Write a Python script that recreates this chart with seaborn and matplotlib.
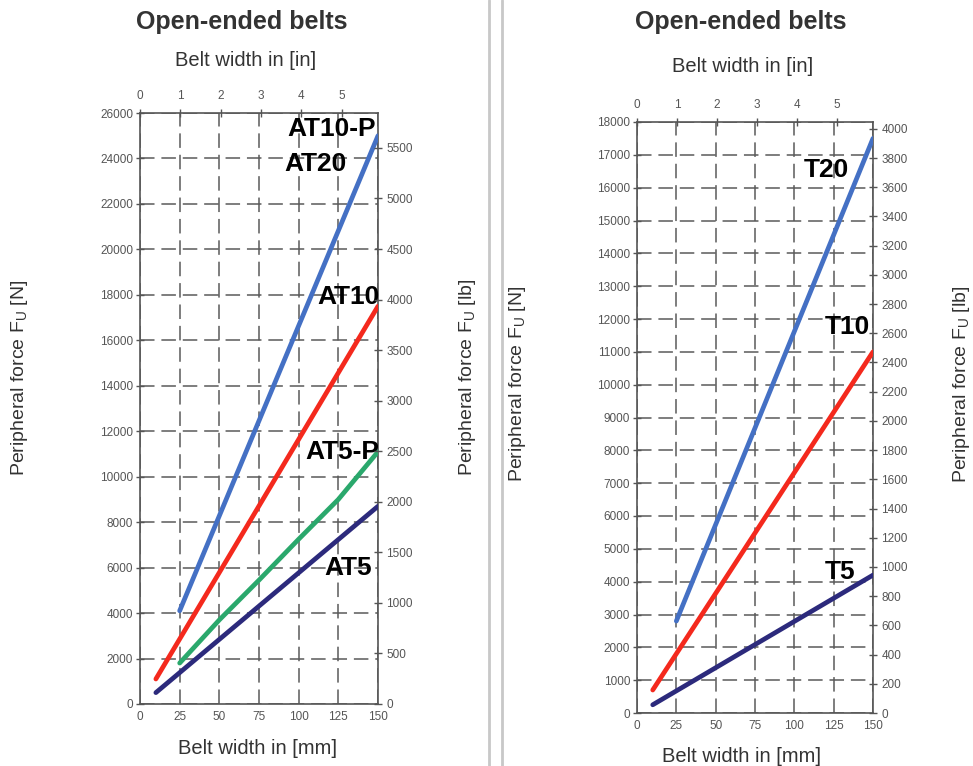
import numpy as np
import pandas as pd
import seaborn as sns
import matplotlib.pyplot as plt

# belt width in mm, peripheral force in N
at_p_w = [25, 150]
at_p_f = [4100, 25000]
at10_w = [10, 150]
at10_f = [1100, 17500]
at5p_w = [25, 50, 75, 100, 125, 150]
at5p_f = [1800, 3700, 5450, 7250, 9000, 11100]
at5_w = [10, 150]
at5_f = [500, 8700]

t20_w = [25, 150]
t20_f = [2800, 17500]
t10_w = [10, 150]
t10_f = [700, 11000]
t5_w = [10, 150]
t5_f = [250, 4200]

N_PER_LB = 4.448
MM_PER_IN = 25.4

blue = "#4470c4"
red = "#f4291d"
green = "#2aa86c"
navy = "#2c2a7c"
tick_col = "#555555"
text_col = "#333333"

sns.set_style("white")
plt.rcParams['font.family'] = ['Liberation Sans', 'DejaVu Sans']

fig = plt.figure(figsize=(9.73, 7.66), dpi=100)
W, H = 973, 766


def box(x0, y0, x1, y1):
    return [x0 / W, 1 - y1 / H, (x1 - x0) / W, (y1 - y0) / H]


def setup(ax, ymax, ystep, lbmax, lbstep):
    ax.set_xlim(0, 150)
    ax.set_ylim(0, ymax)
    ax.set_xticks(np.arange(0, 151, 25))
    ax.set_yticks(np.arange(0, ymax + 1, ystep))
    ax.tick_params(direction='inout', length=6, width=1, labelsize=8.5,
                   colors=tick_col, pad=2)
    ax.set_axisbelow(True)
    ax.grid(True, color="#5a5a5a", linestyle=(0, (9.5, 4.5)), linewidth=1.1)
    for s in ax.spines.values():
        s.set_color("#555555")
        s.set_linewidth(1.2)
        s.set_visible(True)
    ax.set_xlabel("")
    ax.set_ylabel("")
    # lb axis on the right
    ax2 = ax.twinx()
    ax2.set_ylim(0, ymax / N_PER_LB)
    ax2.set_yticks(np.arange(0, lbmax + 1, lbstep))
    ax2.tick_params(direction='inout', length=6, width=1, labelsize=8.5,
                    colors=tick_col, pad=3)
    ax2.grid(False)
    for s in ax2.spines.values():
        s.set_visible(False)
    # inch axis on top
    top = ax.secondary_xaxis('top', functions=(lambda v: v / MM_PER_IN,
                                               lambda v: v * MM_PER_IN))
    top.set_xticks(np.arange(0, 6, 1))
    top.tick_params(direction='inout', length=6, width=1, labelsize=8.5,
                    colors=tick_col, pad=5)
    for s in top.spines.values():
        s.set_visible(False)
    return ax2


# left chart
axL = fig.add_axes(box(140, 113, 378, 704))
sns.lineplot(x=at_p_w, y=at_p_f, ax=axL, color=blue, lw=3.4, zorder=3)
sns.lineplot(x=at10_w, y=at10_f, ax=axL, color=red, lw=3.4, zorder=3)
sns.lineplot(x=at5p_w, y=at5p_f, ax=axL, color=green, lw=3.4, zorder=3)
sns.lineplot(x=at5_w, y=at5_f, ax=axL, color=navy, lw=3.4, zorder=3)
setup(axL, 26000, 2000, 5500, 500)
lab = dict(fontsize=19, fontweight='bold', color='black', ha='right', va='center', zorder=5)
axL.text(149, 25300, "AT10-P", **lab)
axL.text(130, 23750, "AT20", **lab)
axL.text(151, 17900, "AT10", **lab)
axL.text(151, 11100, "AT5-P", **lab)
axL.text(146, 6000, "AT5", **lab)

# right chart
axR = fig.add_axes(box(637, 122, 873, 713))
sns.lineplot(x=t20_w, y=t20_f, ax=axR, color=blue, lw=3.4, zorder=3)
sns.lineplot(x=t10_w, y=t10_f, ax=axR, color=red, lw=3.4, zorder=3)
sns.lineplot(x=t5_w, y=t5_f, ax=axR, color=navy, lw=3.4, zorder=3)
setup(axR, 18000, 1000, 4000, 200)
axR.text(134.5, 16550, "T20", **lab)
axR.text(148, 11750, "T10", **lab)
axR.text(139, 4300, "T5", **lab)

# titles and axis labels
ttl = dict(fontsize=18, fontweight='bold', color=text_col, ha='center', va='center')
fig.text(242 / W, 1 - 22 / H, "Open-ended belts", **ttl)
fig.text(741 / W, 1 - 22 / H, "Open-ended belts", **ttl)
sub = dict(fontsize=14.5, color=text_col, ha='center', va='center')
fig.text(246 / W, 1 - 60 / H, "Belt width in [in]", **sub)
fig.text(743 / W, 1 - 66 / H, "Belt width in [in]", **sub)
fig.text(257 / W, 1 - 748 / H, "Belt width in [mm]", **sub)
fig.text(741 / W, 1 - 756 / H, "Belt width in [mm]", **sub)
ylab = dict(fontsize=14, color=text_col, ha='center', va='center', rotation=90)
fig.text(20 / W, 1 - 378 / H, r"Peripheral force F$_\mathregular{U}$ [N]", **ylab)
fig.text(467 / W, 1 - 377 / H, r"Peripheral force F$_\mathregular{U}$ [lb]", **ylab)
fig.text(518 / W, 1 - 384 / H, r"Peripheral force F$_\mathregular{U}$ [N]", **ylab)
fig.text(962 / W, 1 - 384 / H, r"Peripheral force F$_\mathregular{U}$ [lb]", **ylab)

# double separator line
for xs in (489, 502):
    fig.add_artist(plt.Line2D([xs / W, xs / W], [0, 1], color="#c8c8c8", lw=2))

fig.savefig("out.png", dpi=100)
